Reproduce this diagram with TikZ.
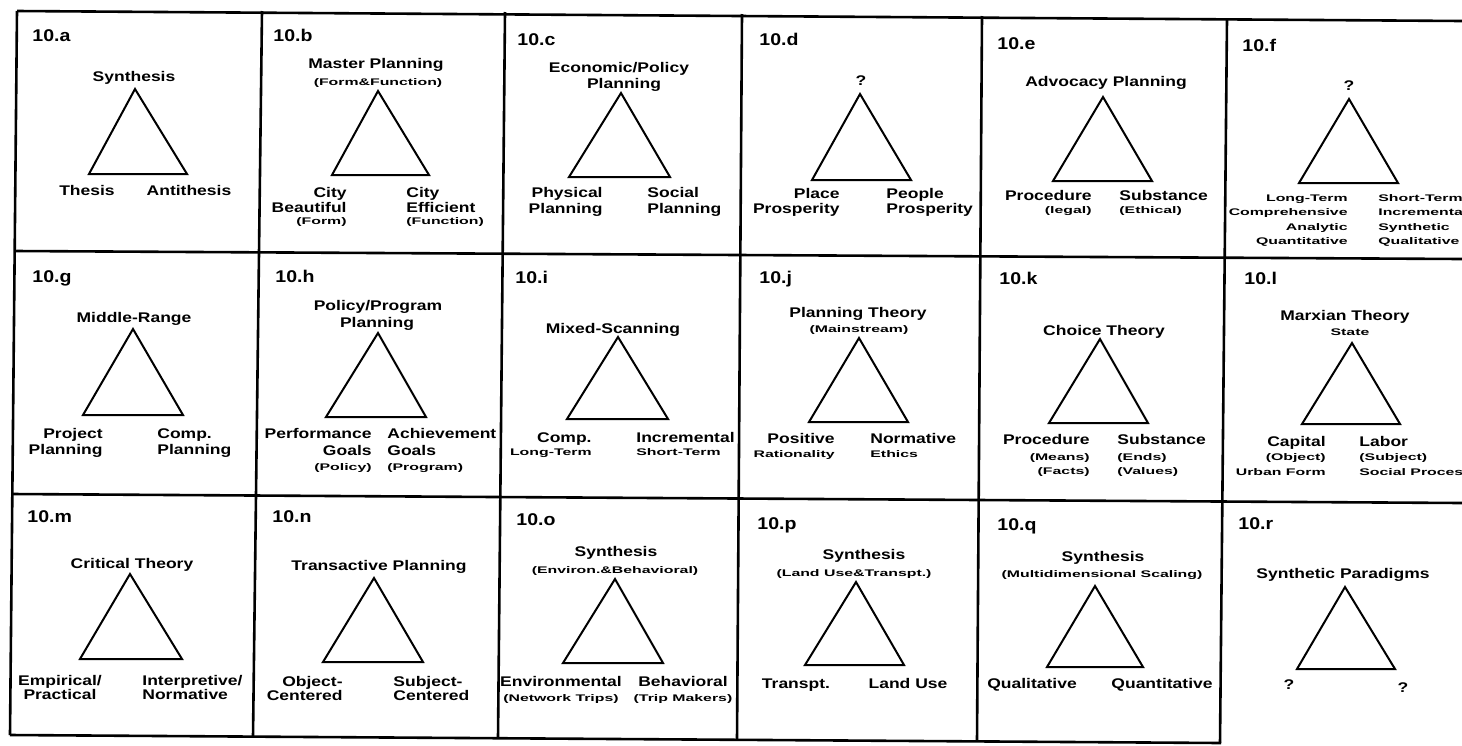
\documentclass[tikz,border=0pt]{standalone}
\usepackage{fontspec}
\setmainfont{Liberation Sans}
\newfontfamily\mainf{Liberation Sans}[FakeStretch=1.25]
\newfontfamily\smallf{Liberation Sans}[FakeStretch=1.65]
\newfontfamily\labf{Liberation Sans}[FakeStretch=1.15]
\tikzset{
 M/.style={font=\mainf\bfseries\fontsize{7}{8}\selectfont, inner sep=0pt},
 S/.style={font=\smallf\bfseries\fontsize{4.8}{5.5}\selectfont, inner sep=0pt},
 L/.style={font=\labf\bfseries\fontsize{8.5}{10}\selectfont, inner sep=0pt, anchor=base west},
 tri/.style={draw, line width=1pt, line join=miter},
 gridline/.style={draw, line width=1.3pt},
}
\newcommand\mytri[4]{\coordinate (#1t) at (#2); \coordinate (#1l) at (#3); \coordinate (#1r) at (#4); \draw[tri] (#1t) -- (#1l) -- (#1r) -- cycle;}
\begin{document}
\begin{tikzpicture}[x=0.5pt,y=-0.5pt]
\useasboundingbox (0,0) rectangle (1462,745);
% grid
\coordinate (g00) at (17,11);   \coordinate (g0e) at (1462,21);
\coordinate (g10) at (15,251);  \coordinate (g1e) at (1462,259);
\coordinate (g20) at (12,494);  \coordinate (g2e) at (1462,503);
\coordinate (g30) at (10,735);  \coordinate (g3e) at (1221,743);
\coordinate (v1t) at (262,11);  \coordinate (v1b) at (253,737);
\coordinate (v2t) at (505,12);  \coordinate (v2b) at (498,738);
\coordinate (v3t) at (742,14);  \coordinate (v3b) at (737,740);
\coordinate (v4t) at (982,16);  \coordinate (v4b) at (977,741);
\coordinate (v5t) at (1227,19); \coordinate (v5b) at (1220,743);
\draw[gridline] (g00) -- (g0e);
\draw[gridline] (g10) -- (g1e);
\draw[gridline] (g20) -- (g2e);
\draw[gridline] (g30) -- (g3e);
\draw[gridline] (g00) -- (g30);
\draw[gridline] (v1t) -- (v1b);
\draw[gridline] (v2t) -- (v2b);
\draw[gridline] (v3t) -- (v3b);
\draw[gridline] (v4t) -- (v4b);
\draw[gridline] (v5t) -- (v5b);

% ---------- 10.a
\node[L] (la) at (32,41) {10.a};
\node[M,anchor=base] (at) at (134,81) {Synthesis};
\mytri{a}{135,89}{89,174}{187,174}
\node[M,anchor=base] (al) at (87,195) {Thesis};
\node[M,anchor=base] (ar) at (189,195) {Antithesis};

% ---------- 10.b
\node[L] (lb) at (273,41) {10.b};
\node[M,anchor=base] (bt1) at (376,68) {Master Planning};
\node[S,anchor=base] (bt2) at (378,85.5) {(Form\&Function)};
\mytri{b}{378,91}{332,175}{429,175}
\node[M,anchor=base east] (bl1) at (347,197) {City};
\node[M,anchor=base east] (bl2) at (347,212) {Beautiful};
\node[S,anchor=base east] (bl3) at (347,224.5) {(Form)};
\node[M,anchor=base west] (br1) at (406,197) {City};
\node[M,anchor=base west] (br2) at (406,212) {Efficient};
\node[S,anchor=base west] (br3) at (406,224.5) {(Function)};

% ---------- 10.c
\node[L] (lc) at (517,45) {10.c};
\node[M,anchor=base] (ct1) at (619,72) {Economic/Policy};
\node[M,anchor=base] (ct2) at (624,88) {Planning};
\mytri{c}{621,93}{569,177}{670,177}
\node[M,anchor=base east] (cl1) at (603,197) {Physical};
\node[M,anchor=base east] (cl2) at (603,213) {Planning};
\node[M,anchor=base west] (cr1) at (647,197) {Social};
\node[M,anchor=base west] (cr2) at (647,213) {Planning};

% ---------- 10.d
\node[L] (ld) at (759,45) {10.d};
\node[M,anchor=base] (dt) at (861,85) {?};
\mytri{d}{860,94}{812,180}{911,180}
\node[M,anchor=base east] (dl1) at (840,198) {Place};
\node[M,anchor=base east] (dl2) at (840,213) {Prosperity};
\node[M,anchor=base west] (dr1) at (886,198) {People};
\node[M,anchor=base west] (dr2) at (886,213) {Prosperity};

% ---------- 10.e
\node[L] (le) at (997,49) {10.e};
\node[M,anchor=base] (et) at (1106,86) {Advocacy Planning};
\mytri{e}{1103,97}{1053,181}{1152,181}
\node[M,anchor=base east] (el1) at (1092,200) {Procedure};
\node[S,anchor=base east] (el2) at (1092,213) {(legal)};
\node[M,anchor=base west] (er1) at (1119,200) {Substance};
\node[S,anchor=base west] (er2) at (1119,213) {(Ethical)};

% ---------- 10.f
\node[L] (lf) at (1242,51) {10.f};
\node[M,anchor=base] (ft) at (1349,90) {?};
\mytri{f}{1349,99}{1299,183}{1398,183}
\node[S,anchor=base east] (fl1) at (1348,201) {Long-Term};
\node[S,anchor=base east] (fl2) at (1348,215) {Comprehensive};
\node[S,anchor=base east] (fl3) at (1348,230) {Analytic};
\node[S,anchor=base east] (fl4) at (1348,244) {Quantitative};
\node[S,anchor=base west] (fr1) at (1378,201) {Short-Term};
\node[S,anchor=base west] (fr2) at (1378,215) {Incremental};
\node[S,anchor=base west] (fr3) at (1378,230) {Synthetic};
\node[S,anchor=base west] (fr4) at (1378,244) {Qualitative};

% ---------- 10.g
\node[L] (lg) at (32,282) {10.g};
\node[M,anchor=base] (gt) at (134,322) {Middle-Range};
\mytri{g}{133,329}{83,415}{183,415}
\node[M,anchor=base east] (gl1) at (103,438) {Project};
\node[M,anchor=base east] (gl2) at (103,454) {Planning};
\node[M,anchor=base west] (gr1) at (157,438) {Comp.};
\node[M,anchor=base west] (gr2) at (157,454) {Planning};

% ---------- 10.h
\node[L] (lh) at (275,282) {10.h};
\node[M,anchor=base] (ht1) at (378,310) {Policy/Program};
\node[M,anchor=base] (ht2) at (377,327) {Planning};
\mytri{h}{378,333}{326,417}{426,417}
\node[M,anchor=base east] (hl1) at (372,438) {Performance};
\node[M,anchor=base east] (hl2) at (372,455) {Goals};
\node[S,anchor=base east] (hl3) at (372,470.5) {(Policy)};
\node[M,anchor=base west] (hr1) at (387,438) {Achievement};
\node[M,anchor=base west] (hr2) at (387,455) {Goals};
\node[S,anchor=base west] (hr3) at (387,470.5) {(Program)};

% ---------- 10.i
\node[L] (li) at (515,283) {10.i};
\node[M,anchor=base] (it) at (613,333) {Mixed-Scanning};
\mytri{i}{618,337}{567,419}{668,419}
\node[M,anchor=base east] (il1) at (592,442) {Comp.};
\node[S,anchor=base east] (il2) at (592,455.5) {Long-Term};
\node[M,anchor=base west] (ir1) at (636,442) {Incremental};
\node[S,anchor=base west] (ir2) at (636,455.5) {Short-Term};

% ---------- 10.j
\node[L] (lj) at (759,283) {10.j};
\node[M,anchor=base] (jt1) at (858,317) {Planning Theory};
\node[S,anchor=base] (jt2) at (859,332.5) {(Mainstream)};
\mytri{j}{859,338}{809,422}{908,422}
\node[M,anchor=base east] (jl1) at (835,443) {Positive};
\node[S,anchor=base east] (jl2) at (835,457.5) {Rationality};
\node[M,anchor=base west] (jr1) at (870,443) {Normative};
\node[S,anchor=base west] (jr2) at (870,457.5) {Ethics};

% ---------- 10.k
\node[L] (lk) at (999,284) {10.k};
\node[M,anchor=base] (kt) at (1104,335) {Choice Theory};
\mytri{k}{1100,339}{1049,423}{1148,423}
\node[M,anchor=base east] (kl1) at (1090,444) {Procedure};
\node[S,anchor=base east] (kl2) at (1090,460.5) {(Means)};
\node[S,anchor=base east] (kl3) at (1090,474.5) {(Facts)};
\node[M,anchor=base west] (kr1) at (1117,444) {Substance};
\node[S,anchor=base west] (kr2) at (1117,460.5) {(Ends)};
\node[S,anchor=base west] (kr3) at (1117,474.5) {(Values)};

% ---------- 10.l
\node[L] (ll) at (1244,284) {10.l};
\node[M,anchor=base] (lt1) at (1345,320) {Marxian Theory};
\node[S,anchor=base] (lt2) at (1350,335.5) {State};
\mytri{l}{1352,343}{1302,424}{1400,424}
\node[M,anchor=base east] (ll1) at (1326,446) {Capital};
\node[S,anchor=base east] (ll2) at (1326,460.5) {(Object)};
\node[S,anchor=base east] (ll3) at (1326,475.5) {Urban Form};
\node[M,anchor=base west] (lr1) at (1359,446) {Labor};
\node[S,anchor=base west] (lr2) at (1359,460.5) {(Subject)};
\node[S,anchor=base west] (lr3) at (1359,475.5) {Social Process};

% ---------- 10.m
\node[L] (lm) at (27,522) {10.m};
\node[M,anchor=base] (mt) at (132,568) {Critical Theory};
\mytri{m}{130,574}{80,659}{182,659}
\node[M,anchor=base] (ml1) at (60,685) {Empirical/};
\node[M,anchor=base] (ml2) at (60,699) {Practical};
\node[M,anchor=base west] (mr1) at (142,685) {Interpretive/};
\node[M,anchor=base west] (mr2) at (142,699) {Normative};

% ---------- 10.n
\node[L] (ln) at (272,522) {10.n};
\node[M,anchor=base] (nt) at (379,570) {Transactive Planning};
\mytri{n}{374,578}{323,662}{423,662}
\node[M,anchor=base east] (nl1) at (343,686) {Object-};
\node[M,anchor=base east] (nl2) at (343,700) {Centered};
\node[M,anchor=base west] (nr1) at (393,686) {Subject-};
\node[M,anchor=base west] (nr2) at (393,700) {Centered};

% ---------- 10.o
\node[L] (lo) at (516,525) {10.o};
\node[M,anchor=base] (ot1) at (616,556) {Synthesis};
\node[S,anchor=base] (ot2) at (615,573.5) {(Environ.\&Behavioral)};
\mytri{o}{615,579}{563,663}{663,663}
\node[M,anchor=base] (ol1) at (561,686) {Environmental};
\node[S,anchor=base] (ol2) at (561,701.5) {(Network Trips)};
\node[M,anchor=base] (or1) at (683,686) {Behavioral};
\node[S,anchor=base] (or2) at (683,701.5) {(Trip Makers)};

% ---------- 10.p
\node[L] (lp) at (757,529) {10.p};
\node[M,anchor=base] (pt1) at (864,559) {Synthesis};
\node[S,anchor=base] (pt2) at (854,576.5) {(Land Use\&Transpt.)};
\mytri{p}{856,582}{805,665}{904,665}
\node[M,anchor=base] (pl) at (796,688) {Transpt.};
\node[M,anchor=base] (pr) at (908,688) {Land Use};

% ---------- 10.q
\node[L] (lq) at (997,530) {10.q};
\node[M,anchor=base] (qt1) at (1103,561) {Synthesis};
\node[S,anchor=base] (qt2) at (1102,577.5) {(Multidimensional Scaling)};
\mytri{q}{1095,586}{1047,667}{1143,667}
\node[M,anchor=base] (ql) at (1032,688) {Qualitative};
\node[M,anchor=base] (qr) at (1162,688) {Quantitative};

% ---------- 10.r
\node[L] (lr) at (1238,529) {10.r};
\node[M,anchor=base] (rt) at (1343,578) {Synthetic Paradigms};
\mytri{r}{1345,587}{1297,669}{1395,669}
\node[M,anchor=base] (rl) at (1289,689) {?};
\node[M,anchor=base] (rr) at (1403,692) {?};
\end{tikzpicture}
\end{document}
